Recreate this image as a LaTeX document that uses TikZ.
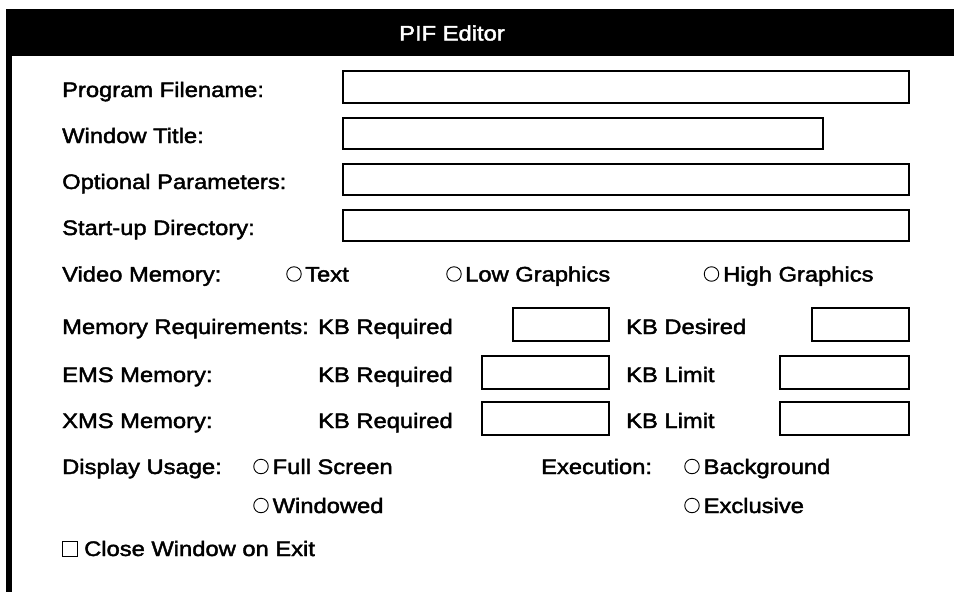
\documentclass[tikz,border=0pt]{standalone}
\usepackage{fontspec}
\setmainfont[FakeStretch=1.13,FakeBold=2]{Liberation Sans}
\begin{document}
\begin{tikzpicture}[x=1pt,y=-1pt,
 lbl/.style={anchor=base west,inner sep=0pt,font=\fontsize{21}{24}\selectfont},
 field/.style={draw=black,line width=1.5pt,fill=white,inner sep=0pt,anchor=north west},
 radio/.style={circle,draw=black,line width=0.9pt,minimum size=14.5pt,inner sep=0pt},
 chk/.style={draw=black,line width=0.9pt,minimum size=15pt,inner sep=0pt}]
\useasboundingbox (0,0) rectangle (954,592);
\fill[black] (6,9) rectangle (954,56);
\fill[black] (6,9) rectangle (12,592);
\node[font=\fontsize{21}{24}\selectfont,text=white,inner sep=0pt] (title) at (452,33) {PIF Editor};
% text fields rows
\node[lbl] (lpf) at (62,97) {Program Filename:};
\node[field,minimum width=566pt,minimum height=32pt] (fpf) at (342,70) {};
\node[lbl] (lwt) at (62,143) {Window Title:};
\node[field,minimum width=480pt,minimum height=31pt] (fwt) at (342,117) {};
\node[lbl] (lop) at (62,189) {Optional Parameters:};
\node[field,minimum width=566pt,minimum height=31pt] (fop) at (342,163) {};
\node[lbl] (lsd) at (62,235) {Start-up Directory:};
\node[field,minimum width=566pt,minimum height=31pt] (fsd) at (342,209) {};
% video memory
\node[lbl] (lvm) at (62,281.5) {Video Memory:};
\node[radio] (rt) at (294,274) {};
\node[lbl] (lt) at (305,281.5) {Text};
\node[radio] (rl) at (454,274) {};
\node[lbl] (ll) at (465,281.5) {Low Graphics};
\node[radio] (rh) at (711.5,274) {};
\node[lbl] (lh) at (723,281.5) {High Graphics};
% memory requirements
\node[lbl] (lmr) at (62,334) {Memory Requirements:};
\node[lbl] (lmrk) at (318,334) {KB Required};
\node[field,minimum width=96pt,minimum height=33pt] (fmr1) at (512,307) {};
\node[lbl] (lmd) at (626,334) {KB Desired};
\node[field,minimum width=97pt,minimum height=33pt] (fmr2) at (811,307) {};
% EMS
\node[lbl] (lems) at (62,382) {EMS Memory:};
\node[lbl] (lemsk) at (318,382) {KB Required};
\node[field,minimum width=127pt,minimum height=33pt] (fems1) at (481,355) {};
\node[lbl] (lemsl) at (626,382) {KB Limit};
\node[field,minimum width=129pt,minimum height=33pt] (fems2) at (779,355) {};
% XMS
\node[lbl] (lxms) at (62,428) {XMS Memory:};
\node[lbl] (lxmsk) at (318,428) {KB Required};
\node[field,minimum width=127pt,minimum height=33pt] (fxms1) at (481,401) {};
\node[lbl] (lxmsl) at (626,428) {KB Limit};
\node[field,minimum width=129pt,minimum height=33pt] (fxms2) at (779,401) {};
% display usage / execution
\node[lbl] (ldu) at (62,474) {Display Usage:};
\node[radio] (rfs) at (261,466.5) {};
\node[lbl] (lfs) at (272.5,474) {Full Screen};
\node[radio] (rw) at (261,505.5) {};
\node[lbl] (lw) at (272.5,513) {Windowed};
\node[lbl] (lex) at (541,474) {Execution:};
\node[radio] (rbg) at (692,466.5) {};
\node[lbl] (lbg) at (703.5,474) {Background};
\node[radio] (rexc) at (692,505.5) {};
\node[lbl] (lexc) at (703.5,513) {Exclusive};
% checkbox
\node[chk] (cb) at (69.5,548.5) {};
\node[lbl] (lcb) at (84,556) {Close Window on Exit};
\end{tikzpicture}
\end{document}
